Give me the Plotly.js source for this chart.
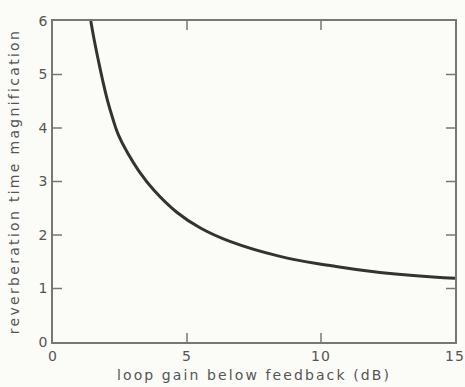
<!DOCTYPE html>
<html>
<head>
<meta charset="utf-8">
<script src="https://cdn.plot.ly/plotly-3.0.1.min.js"></script>
<style>
html,body{margin:0;padding:0;background:#fbfbf8;}
#chart{width:465px;height:387px;}
#chart .xtitle{letter-spacing:2.1px;}
#chart .ytitle{letter-spacing:2.3px;}
#chart .xtick text, #chart .ytick text{letter-spacing:1px;}
</style>
</head>
<body>
<div id="chart"></div>
<script>
// loop gain below feedback (dB)
const loopGain = [1.41, 1.54, 1.69, 1.84, 2.03, 2.21, 2.44, 2.8, 3.2, 3.76, 4.63, 5.5, 6.6, 8.47, 10.34, 12.2, 15];
// reverberation time magnification
const magnification = [6.0, 5.64, 5.27, 4.92, 4.52, 4.21, 3.87, 3.52, 3.2, 2.84, 2.42, 2.13, 1.88, 1.6, 1.43, 1.30, 1.19];
const xTicks = [0, 5, 10, 15];
const yTicks = [0, 1, 2, 3, 4, 5, 6];
const xInnerTicks = [5, 10];
const yInnerTicks = [1, 2, 3, 4, 5];

const font = {family: 'DejaVu Sans, sans-serif', color: '#555', size: 14};
const axisColor = '#777';
const tickLen = 9;

const trace = {
  x: loopGain, y: magnification, type: 'scatter', mode: 'lines',
  line: {color: '#333', width: 3, shape: 'spline', smoothing: 1.3},
  hoverinfo: 'skip'
};

function axis(extra) {
  return Object.assign({
    showgrid: false, zeroline: false, showline: true, linecolor: axisColor, linewidth: 1.5,
    mirror: true, ticks: '',
    tickfont: {family: font.family, color: font.color, size: font.size},
    tickmode: 'array'
  }, extra);
}

// inward tick marks on all four sides, placed through the axes' own scales
const tickLine = {color: axisColor, width: 1.5};
const shapes = [];
xInnerTicks.forEach(function(v){
  shapes.push({type: 'line', xref: 'x', yref: 'paper', ysizemode: 'pixel', yanchor: 0, x0: v, x1: v, y0: 0, y1: tickLen, line: tickLine});
  shapes.push({type: 'line', xref: 'x', yref: 'paper', ysizemode: 'pixel', yanchor: 1, x0: v, x1: v, y0: 0, y1: -tickLen, line: tickLine});
});
yInnerTicks.forEach(function(v){
  shapes.push({type: 'line', yref: 'y', xref: 'paper', xsizemode: 'pixel', xanchor: 0, y0: v, y1: v, x0: 0, x1: tickLen, line: tickLine});
  shapes.push({type: 'line', yref: 'y', xref: 'paper', xsizemode: 'pixel', xanchor: 1, y0: v, y1: v, x0: 0, x1: -tickLen, line: tickLine});
});

const layout = {
  width: 465, height: 387,
  margin: {l: 53, r: 10, t: 21, b: 45},
  paper_bgcolor: '#fbfbf8', plot_bgcolor: '#fbfbf8',
  showlegend: false,
  shapes: shapes,
  xaxis: axis({
    range: [0, 15], tickvals: xTicks, ticktext: xTicks.map(String),
    title: {text: 'loop gain below feedback (dB)', font: {family: font.family, color: '#555', size: 14}, standoff: 8}
  }),
  yaxis: axis({
    range: [0, 6], tickvals: yTicks, ticktext: yTicks.map(String),
    title: {text: 'reverberation time magnification', font: {family: font.family, color: '#555', size: 14}, standoff: 17}
  })
};

Plotly.newPlot('chart', [trace], layout, {displayModeBar: false});
</script>
</body>
</html>
